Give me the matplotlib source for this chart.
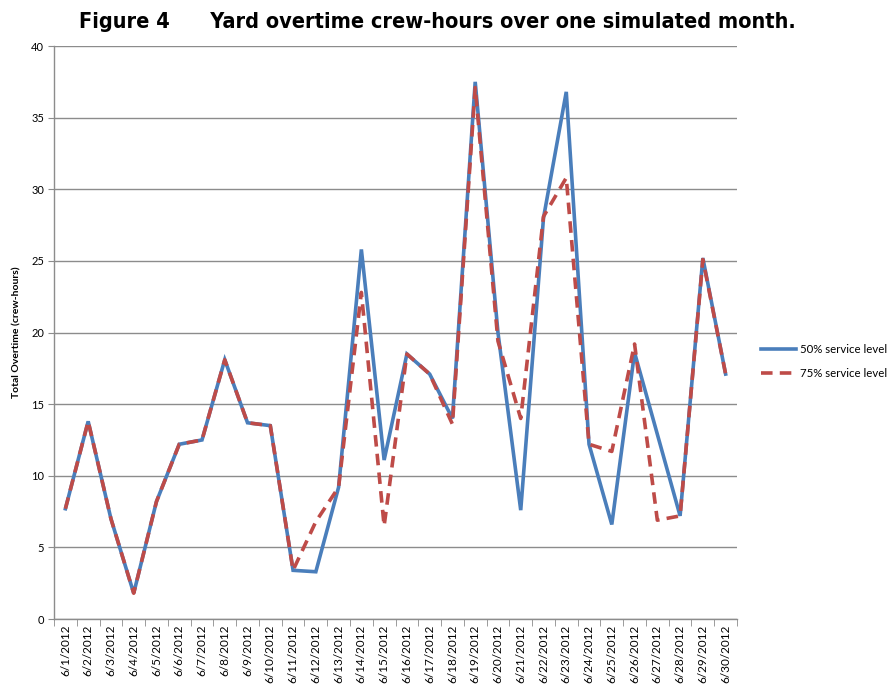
import matplotlib
matplotlib.use("Agg")
import matplotlib.pyplot as plt
import numpy as np


DAYS = [f"6/{d}/2012" for d in range(1, 31)]

SERVICE_50 = [7.7, 13.8, 7.0, 1.8, 8.2, 12.2, 12.5, 18.1, 13.7, 13.5,
              3.4, 3.3, 9.2, 25.8, 11.1, 18.5, 17.1, 14.0, 37.5, 20.0,
              7.6, 28.0, 36.8, 12.2, 6.6, 18.6, 12.9, 7.2, 25.2, 17.1]

SERVICE_75 = [7.7, 13.8, 7.0, 1.8, 8.2, 12.2, 12.5, 18.1, 13.7, 13.5,
              3.4, 6.8, 9.2, 22.8, 6.5, 18.5, 17.1, 13.6, 37.1, 19.4,
              14.0, 28.1, 30.8, 12.2, 11.7, 19.2, 6.9, 7.2, 25.1, 17.1]

LEGEND_LABELS = ["50% service level", "75% service level"]
Y_TICKS = [0, 5, 10, 15, 20, 25, 30, 35, 40]

BLUE = "#4A7EBB"
RED = "#BE4B48"
GRID = "#8C8C8C"

plt.rcParams["font.family"] = ["Lato", "DejaVu Sans"]

fig = plt.figure(figsize=(8.9, 6.84), dpi=100)
ax = fig.add_axes([0.0607, 0.095, 0.7674, 0.8377])

x = np.arange(1, len(DAYS) + 1)
ax.plot(x, SERVICE_50, color=BLUE, lw=2.6, label=LEGEND_LABELS[0],
        solid_joinstyle="miter", zorder=3)
ax.plot(x, SERVICE_75, color=RED, lw=2.6, label=LEGEND_LABELS[1],
        dashes=(3.2, 2.0), zorder=4)

ax.set_xlim(0.5, len(DAYS) + 0.5)
ax.set_ylim(0, 40)
ax.set_yticks(Y_TICKS)
ax.set_yticklabels([str(v) for v in Y_TICKS], fontsize=8)
ax.yaxis.grid(True, color=GRID, lw=1.0)
ax.set_axisbelow(True)

ax.set_xticks(x)
ax.set_xticklabels(DAYS, rotation=90, fontsize=8.5, va="top")
ax.set_xticks(np.arange(0.5, len(DAYS) + 1), minor=True)
ax.tick_params(axis="x", which="major", length=0, pad=4)
ax.tick_params(axis="x", which="minor", length=5, direction="out", color=GRID)
ax.tick_params(axis="y", length=4, direction="out", color=GRID, pad=3)

for side in ("top", "right"):
    ax.spines[side].set_visible(False)
for side in ("left", "bottom"):
    ax.spines[side].set_color(GRID)
    ax.spines[side].set_linewidth(1.0)

ax.set_ylabel("Total Overtime (crew-hours)", fontsize=7.5, fontweight="bold",
              labelpad=7)

ax.legend(loc="center left", bbox_to_anchor=(1.02, 0.449), frameon=False,
          fontsize=8.2, handlelength=3.1, handletextpad=0.3, labelspacing=1.15)

# narrow bold title; condensed DejaVu keeps the span close to the original
fig.text(0.491, 1 - 22 / 684,
         "Figure 4      Yard overtime crew-hours over one simulated month.",
         ha="center", va="center", fontsize=15.6, fontweight="bold",
         fontstretch="condensed", family=["DejaVu Sans"])

fig.savefig("out.png", dpi=100)
